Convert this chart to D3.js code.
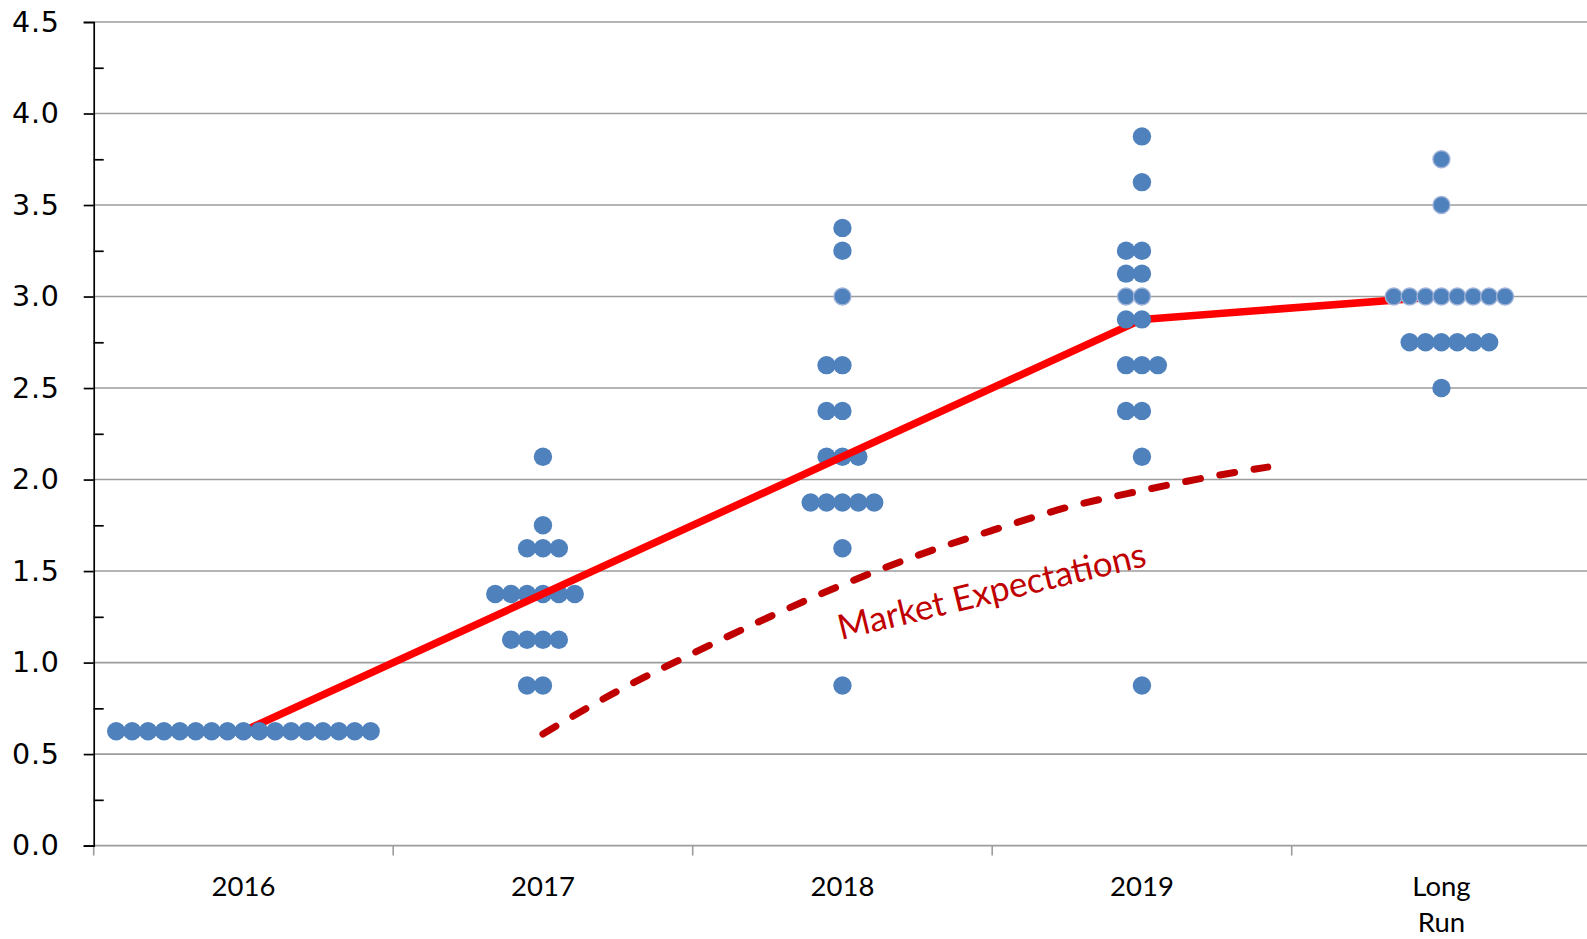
<!DOCTYPE html>
<html>
<head>
<meta charset="utf-8">
<script src="https://cdn.jsdelivr.net/npm/d3@7"></script>
<style>
  body { margin: 0; background: #ffffff; }
  svg { display: block; }
</style>
</head>
<body>
<svg id="chart" width="1587" height="939"></svg>
<script>
// ---------------- DATA ----------------
const categories = ["2016", "2017", "2018", "2019", "Long Run"];

// [rate level, number of participants]
const dots2016 = [[0.625, 17]];
const dots2017 = [[2.125, 1], [1.75, 1], [1.625, 3], [1.375, 6], [1.125, 4], [0.875, 2]];
const dots2018 = [[3.375, 1], [3.25, 1], [3.0, 1], [2.625, 2], [2.375, 2], [2.125, 3], [1.875, 5], [1.625, 1], [0.875, 1]];
const dots2019 = [[3.875, 1], [3.625, 1], [3.25, 2], [3.125, 2], [3.0, 2], [2.875, 2], [2.625, 3], [2.375, 2], [2.125, 1], [0.875, 1]];
const dotsLongRun = [[3.75, 1], [3.5, 1], [3.0, 8], [2.75, 6], [2.5, 1]];
const dotsByCategory = [dots2016, dots2017, dots2018, dots2019, dotsLongRun];

// median path (one value per category)
const medianValues = [0.625, 1.375, 2.125, 2.875, 3.0];

// market expectations: position in category units (0 = 2016, 1 = 2017, ...) and value
const marketPos    = [1.0, 1.25, 1.5, 1.75, 2.0, 2.25, 2.5, 2.75, 3.0, 3.25, 3.42];
const marketValues = [0.61, 0.845, 1.05, 1.245, 1.425, 1.585, 1.722, 1.848, 1.94, 2.022, 2.068];

const yTicks = [0, 0.5, 1.0, 1.5, 2.0, 2.5, 3.0, 3.5, 4.0, 4.5];
const yTickLabels = ["0.0", "0.5", "1.0", "1.5", "2.0", "2.5", "3.0", "3.5", "4.0", "4.5"];
const yMinorTicks = [0.25, 0.75, 1.25, 1.75, 2.25, 2.75, 3.25, 3.75, 4.25];
const xLabelLines = [["2016"], ["2017"], ["2018"], ["2019"], ["Long", "Run"]];
const marketLabel = "Market Expectations";

// ---------------- LAYOUT ----------------
const svg = d3.select("#chart");
const plotLeft = 93.7, plotTop = 22, plotBottom = 845.6, catW = 299.5;
const W = 1587;

const x = d3.scaleBand().domain(categories).range([plotLeft, plotLeft + catW * categories.length]).paddingInner(0).paddingOuter(0);
const y = d3.scaleLinear().domain([0, 4.5]).range([plotBottom, plotTop]);
const cx = c => x(c) + x.bandwidth() / 2;
const xPos = d3.scaleLinear().domain([0, categories.length - 1])
  .range([cx(categories[0]), cx(categories[categories.length - 1])]);

const gridColor = "#9c9c9c";

// gridlines
svg.append("g").selectAll("line").data(yTicks.filter(v => v > 0)).join("line")
  .attr("x1", plotLeft).attr("x2", W)
  .attr("y1", d => y(d)).attr("y2", d => y(d))
  .attr("stroke", gridColor).attr("stroke-width", 1.6);

// x axis (gray)
const xAxisG = svg.append("g").attr("transform", `translate(0,${y(0)})`);
xAxisG.append("line").attr("x1", plotLeft).attr("x2", W).attr("y1", 0).attr("y2", 0)
  .attr("stroke", gridColor).attr("stroke-width", 1.6);
const boundaries = categories.map(c => x(c)).concat([x(categories[categories.length - 1]) + x.bandwidth()]);
xAxisG.selectAll("line.tick").data(boundaries).join("line").attr("class", "tick")
  .attr("x1", d => d).attr("x2", d => d).attr("y1", 0).attr("y2", 10)
  .attr("stroke", gridColor).attr("stroke-width", 1.6);

// x labels
const xl = svg.append("g");
categories.forEach((c, i) => {
  const t = xl.append("text")
    .attr("x", cx(c)).attr("y", 896)
    .attr("text-anchor", "middle")
    .attr("font-family", "Lato, 'Open Sans', sans-serif")
    .attr("font-size", 27.5).attr("fill", "#000");
  xLabelLines[i].forEach((ln, j) => {
    t.append("tspan").attr("x", cx(c)).attr("dy", j === 0 ? 0 : 36).text(ln);
  });
});

// y axis
const yAxis = d3.axisLeft(y).tickValues(yTicks).tickFormat((d, i) => yTickLabels[i]).tickSize(10).tickPadding(24);
const yAxisG = svg.append("g").attr("transform", `translate(${plotLeft},0)`).call(yAxis);
yAxisG.select(".domain").attr("stroke", "#000").attr("stroke-width", 1.7);
yAxisG.selectAll(".tick line").attr("stroke", "#000").attr("stroke-width", 1.7);
yAxisG.selectAll(".tick text")
  .attr("font-family", "'DejaVu Sans', Verdana, sans-serif")
  .attr("font-size", 28.5).attr("letter-spacing", 0.8).attr("fill", "#000");
// minor ticks (inside)
const yMinor = d3.axisRight(y).tickValues(yMinorTicks).tickFormat("").tickSize(10);
const yMinorG = svg.append("g").attr("transform", `translate(${plotLeft},0)`).call(yMinor);
yMinorG.select(".domain").remove();
yMinorG.selectAll(".tick line").attr("stroke", "#000").attr("stroke-width", 1.7);

// dots data
const spacing = 15.9;
const dotRows = [];
categories.forEach((c, ci) => {
  dotsByCategory[ci].forEach(([v, n]) => {
    const shift = (c === "Long Run") ? Math.floor((n - 1) / 2) : Math.floor(n / 2);
    for (let i = 0; i < n; i++) {
      dotRows.push({ cat: c, v: v, k: i - shift });
    }
  });
});
const dotBlue = "#4f81bd";
const isOutlined = d => (d.v === 3.0 && d.cat !== "2017") || (d.cat === "Long Run" && d.v > 3);

function drawDots(g, data) {
  g.selectAll("circle").data(data).join("circle")
    .attr("cx", d => cx(d.cat) + d.k * spacing)
    .attr("cy", d => y(d.v))
    .attr("r", d => isOutlined(d) ? 8.5 : 9.2)
    .attr("fill", dotBlue)
    .attr("stroke", d => isOutlined(d) ? "#9fb3d8" : "none")
    .attr("stroke-width", d => isOutlined(d) ? 1.4 : 0);
}

const underLine = ["2017", "2018"];
drawDots(svg.append("g"), dotRows.filter(d => underLine.includes(d.cat)));

// median line
const medLine = d3.line().x((d, i) => cx(categories[i])).y(d => y(d));
svg.append("path").datum(medianValues)
  .attr("d", medLine)
  .attr("fill", "none").attr("stroke", "#ff0000").attr("stroke-width", 7.5)
  .attr("stroke-linejoin", "round");

// market expectations dashed
const mkLine = d3.line().x(d => xPos(d[0])).y(d => y(d[1])).curve(d3.curveMonotoneX);
svg.append("path").datum(marketPos.map((p, i) => [p, marketValues[i]]))
  .attr("d", mkLine)
  .attr("fill", "none").attr("stroke", "#c00000").attr("stroke-width", 7)
  .attr("stroke-linecap", "round")
  .attr("stroke-dasharray", "15 19.7");

drawDots(svg.append("g"), dotRows.filter(d => !underLine.includes(d.cat)));

// market label
const lab = svg.append("text")
  .attr("transform", "translate(841,640) rotate(-13.6)")
  .attr("font-family", "Lato, 'Open Sans', sans-serif")
  .attr("font-size", 30)
  .attr("fill", "#c00000")
  .text(marketLabel);
const L = lab.node().getComputedTextLength();
lab.attr("font-size", 30 * 316 / L);
</script>
</body>
</html>
